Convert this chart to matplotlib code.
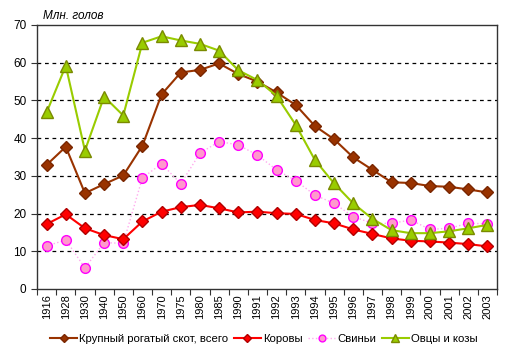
import matplotlib
matplotlib.use("Agg")
import matplotlib.pyplot as plt
import numpy as np

plt.rcParams['font.family'] = ['Liberation Sans', 'DejaVu Sans']

# --- DATA ---
years = ['1916', '1928', '1930', '1940', '1950', '1960', '1970', '1975', '1980', '1985',
         '1990', '1991', '1992', '1993', '1994', '1995', '1996', '1997', '1998', '1999',
         '2000', '2001', '2002', '2003']
cattle = [32.9, 37.7, 25.4, 27.8, 30.1, 38.0, 51.6, 57.4, 58.1, 59.8, 57.0, 55.0,
          52.1, 48.8, 43.2, 39.7, 34.9, 31.6, 28.3, 28.1, 27.3, 27.1, 26.4, 25.6]
cows = [17.2, 19.8, 16.1, 14.3, 13.2, 17.9, 20.5, 21.7, 22.3, 21.4, 20.3, 20.5,
        20.1, 19.9, 18.3, 17.4, 15.8, 14.6, 13.4, 12.8, 12.6, 12.3, 11.9, 11.3]
pigs = [11.4, 13.0, 5.6, 12.3, 12.1, 29.5, 33.2, 27.9, 36.0, 39.1, 38.2, 35.5,
        31.6, 28.7, 24.9, 22.7, 19.2, 17.4, 17.4, 18.3, 15.8, 16.1, 17.4, 17.3]
sheep = [46.8, 59.2, 36.7, 51.0, 46.0, 65.3, 67.0, 65.9, 65.0, 63.2, 58.0, 55.4,
         51.2, 43.5, 34.2, 28.0, 22.7, 18.6, 15.6, 14.8, 14.8, 15.3, 16.1, 17.0]

labels = ['Крупный рогатый скот, всего', 'Коровы', 'Свиньи', 'Овцы и козы']

# --- PLOT ---
fig = plt.figure(figsize=(5.12, 3.57), dpi=100)
ax = fig.add_axes([0.0723, 0.1905, 0.8984, 0.7395])

x = np.arange(len(years))
ax.plot(x, cattle, color='#993300', lw=1.5, marker='D', ms=6,
        mfc='#993300', mec='#7a2600', label=labels[0], zorder=4)
ax.plot(x, cows, color='#ff0000', lw=1.5, marker='D', ms=6,
        mfc='#ff0000', mec='#b00000', label=labels[1], zorder=4)
ax.plot(x, pigs, color='#ffaaee', lw=1, ls=':', marker='o', ms=7,
        mfc='#ff99cc', mec='#ff00ff', mew=1, label=labels[2], zorder=3)
ax.plot(x, sheep, color='#99cc00', lw=1.5, marker='^', ms=8,
        mfc='#99cc00', mec='#7a8a00', label=labels[3], zorder=5)

ax.set_xlim(-0.5, len(years) - 0.5)
ax.set_ylim(0, 70)
ax.set_yticks(range(0, 71, 10))
for v in range(10, 70, 10):
    ax.axhline(v, color='black', ls=(0, (3, 3)), lw=0.9, zorder=1)

ax.set_xticks(np.arange(len(years) + 1) - 0.5)
ax.set_xticklabels([])
ax.set_xticks(x, minor=True)
ax.set_xticklabels(years, minor=True, rotation=90, fontsize=8)
ax.tick_params(axis='x', which='minor', length=0, pad=4)
ax.tick_params(axis='x', which='major', length=4, direction='out', color='#333333')
ax.tick_params(axis='y', length=4, direction='out', labelsize=8.5, color='#333333')

for s in ax.spines.values():
    s.set_color('#333333')
    s.set_linewidth(1)

fig.text(0.084, 0.955, 'Млн. голов', fontsize=8.5, style='italic', va='center')

fig.legend(loc='center', bbox_to_anchor=(0.515, 0.05), ncol=4, frameon=False,
           fontsize=8.2, handlelength=2.4, handletextpad=0.15, columnspacing=0.5,
           markerscale=0.7)

fig.savefig('out.png', dpi=100)
